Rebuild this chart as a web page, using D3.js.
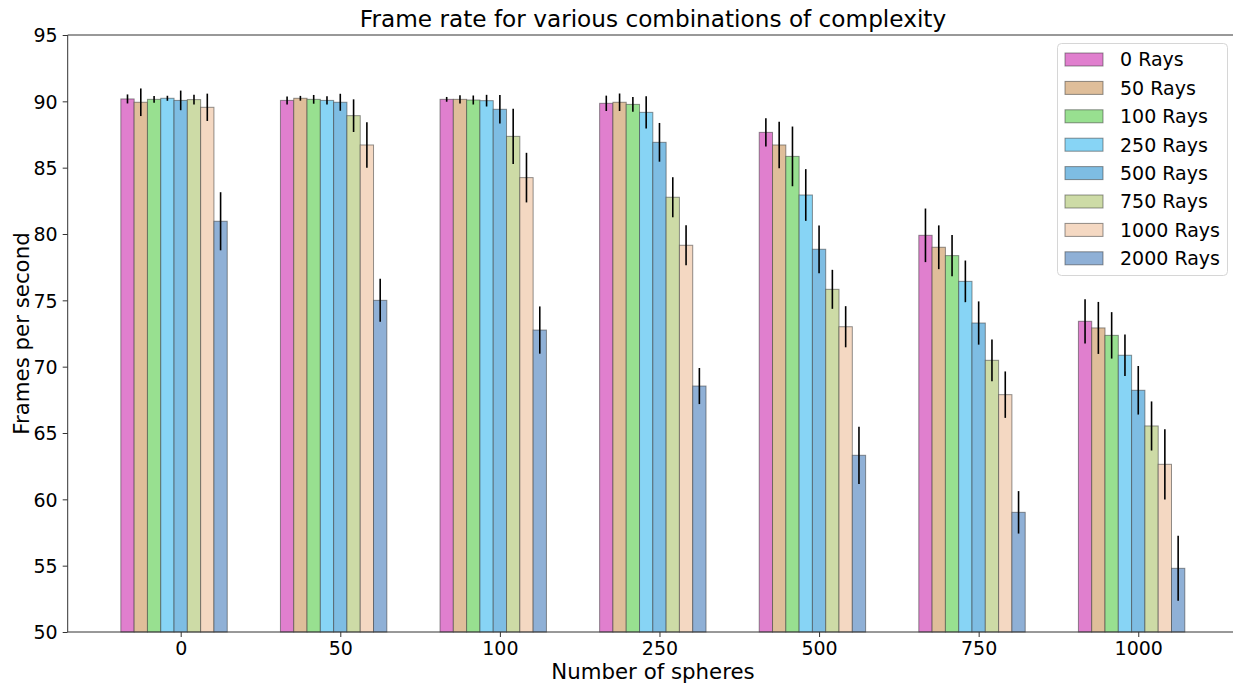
<!DOCTYPE html>
<html>
<head>
<meta charset="utf-8">
<script src="https://cdn.jsdelivr.net/npm/d3@7"></script>
<style>
body { margin: 0; background: #fff; }
text { font-family: "DejaVu Sans", sans-serif; }
</style>
</head>
<body>
<svg id="chart" width="1233" height="683"></svg>
<script>
const categories = ["0", "50", "100", "250", "500", "750", "1000"];
const seriesNames = ["0 Rays", "50 Rays", "100 Rays", "250 Rays", "500 Rays", "750 Rays", "1000 Rays", "2000 Rays"];
const seriesColors = ["#e07fce", "#dfbe9a", "#98e090", "#87d4f5", "#7ebde3", "#cddba6", "#f4d8c2", "#8fb0d6"];
// values[series][category]
const values = [
  [90.18, 90.07, 90.15, 89.85, 87.66, 79.90, 73.42],
  [89.93, 90.23, 90.15, 89.93, 86.71, 79.00, 72.92],
  [90.15, 90.15, 90.10, 89.77, 85.85, 78.37, 72.36],
  [90.23, 90.07, 90.05, 89.17, 82.94, 76.43, 70.86],
  [90.07, 89.93, 89.40, 86.91, 78.85, 73.29, 68.22],
  [90.13, 88.92, 87.36, 82.77, 75.83, 70.48, 65.53],
  [89.55, 86.71, 84.25, 79.15, 73.01, 67.89, 62.64],
  [80.96, 75.00, 72.76, 68.54, 63.32, 59.02, 54.80]
];
const errors = [
  [0.34, 0.30, 0.18, 0.58, 1.06, 2.02, 1.67],
  [1.04, 0.18, 0.31, 0.66, 1.75, 1.65, 1.96],
  [0.26, 0.33, 0.34, 0.55, 2.25, 1.56, 1.75],
  [0.19, 0.31, 0.44, 1.21, 1.95, 1.57, 1.56],
  [0.74, 0.64, 1.07, 1.46, 1.80, 1.63, 1.83],
  [0.36, 1.23, 2.09, 1.51, 1.47, 1.57, 1.85],
  [1.03, 1.72, 1.87, 1.51, 1.55, 1.75, 2.65],
  [2.19, 1.62, 1.78, 1.36, 2.16, 1.60, 2.45]
];
const yTicks = [50, 55, 60, 65, 70, 75, 80, 85, 90, 95];

const svg = d3.select("#chart");
const pLeft = 67.7, pRight = 1238, pTop = 35, pBottom = 632;
const x = d3.scaleLinear().domain([-0.708, 6.625]).range([pLeft, pRight]);
const y = d3.scaleLinear().domain([50, 95]).range([pBottom, pTop]);
const bw = 1 / 12;

// bars
const data = [];
values.forEach((row, s) => row.forEach((v, c) => data.push({s, c, v, e: errors[s][c]})));

svg.append("g").selectAll("rect").data(data).join("rect")
  .attr("x", d => x(d.c + (d.s - 4.5) * bw))
  .attr("width", d => x(bw) - x(0))
  .attr("y", d => y(d.v))
  .attr("height", d => y(50) - y(d.v))
  .attr("fill", d => seriesColors[d.s])
  .attr("stroke", "#3a3a3a")
  .attr("stroke-opacity", 0.55)
  .attr("stroke-width", 1);

svg.append("g").selectAll("line").data(data).join("line")
  .attr("x1", d => x(d.c + (d.s - 4) * bw))
  .attr("x2", d => x(d.c + (d.s - 4) * bw))
  .attr("y1", d => y(d.v - d.e))
  .attr("y2", d => y(d.v + d.e))
  .attr("stroke", "#000")
  .attr("stroke-width", 1.6);

// axes
const xAxis = d3.axisBottom(x).tickValues(d3.range(categories.length))
  .tickFormat(i => categories[i]).tickSize(5).tickPadding(5);
const gx = svg.append("g").attr("transform", `translate(0,${pBottom})`).call(xAxis);
const yAxis = d3.axisLeft(y).tickValues(yTicks).tickSize(5).tickPadding(5);
const gy = svg.append("g").attr("transform", `translate(${pLeft},0)`).call(yAxis);
[gx, gy].forEach(g => {
  g.select(".domain").remove();
  g.selectAll(".tick line").attr("stroke", "#333");
  g.selectAll(".tick text").attr("font-size", 19).attr("fill", "#000")
    .attr("font-family", "DejaVu Sans");
});
gy.selectAll(".tick text").attr("dy", "0.36em");

// spines
svg.append("line").attr("x1", pLeft).attr("x2", pLeft).attr("y1", pTop).attr("y2", pBottom).attr("stroke", "#333").attr("stroke-width", 1);
svg.append("line").attr("x1", pLeft).attr("x2", 1233).attr("y1", pBottom).attr("y2", pBottom).attr("stroke", "#333").attr("stroke-width", 1);
svg.append("line").attr("x1", pLeft).attr("x2", 1233).attr("y1", pTop).attr("y2", pTop).attr("stroke", "#333").attr("stroke-width", 1);

// title & labels
svg.append("text").attr("x", 653).attr("y", 27).attr("text-anchor", "middle")
  .attr("font-size", 23.2).text("Frame rate for various combinations of complexity");
svg.append("text").attr("x", 653).attr("y", 679).attr("text-anchor", "middle")
  .attr("font-size", 21.3).text("Number of spheres");
svg.append("text").attr("transform", `translate(29,${(pTop + pBottom) / 2}) rotate(-90)`)
  .attr("text-anchor", "middle").attr("font-size", 21.3).text("Frames per second");

// legend
const lg = svg.append("g");
lg.append("rect").attr("x", 1057.5).attr("y", 43.5).attr("width", 170).attr("height", 232)
  .attr("rx", 4).attr("fill", "#fff").attr("fill-opacity", 0.8).attr("stroke", "#d6d6d6");
const items = lg.selectAll("g.item").data(seriesNames).join("g").attr("class", "item")
  .attr("transform", (d, i) => `translate(0,${59.5 + i * 28.4})`);
items.append("rect").attr("x", 1065).attr("y", -6.5).attr("width", 38).attr("height", 13)
  .attr("fill", (d, i) => seriesColors[i]).attr("stroke", "#3a3a3a").attr("stroke-opacity", 0.55);
items.append("text").attr("x", 1120).attr("y", 0).attr("dy", "0.36em")
  .attr("font-size", 19).text(d => d);
</script>
</body>
</html>
